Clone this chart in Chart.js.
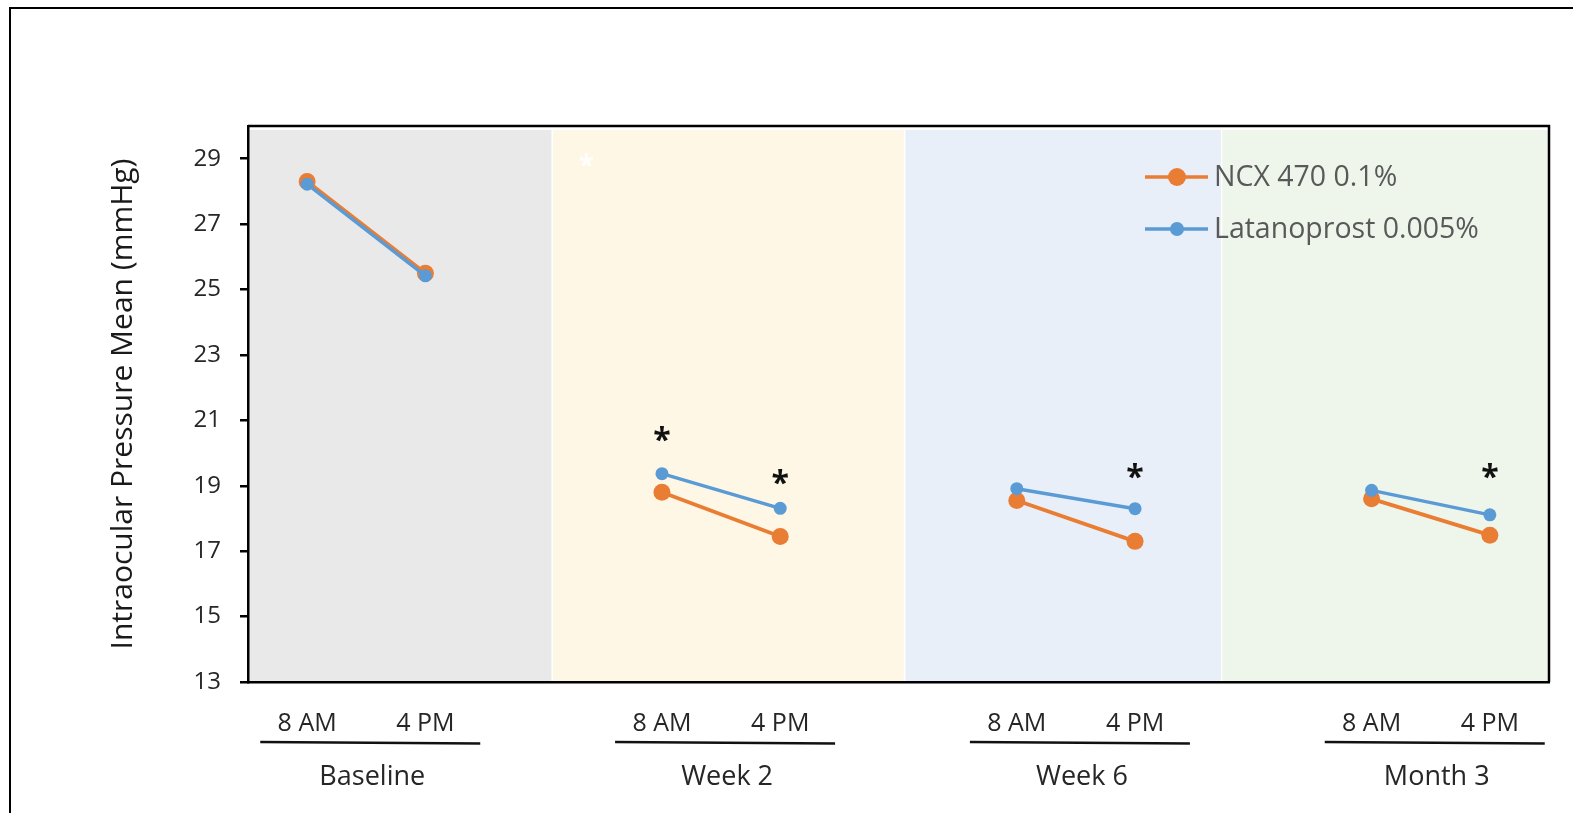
<!DOCTYPE html>
<html>
<head>
<meta charset="utf-8">
<title>Intraocular Pressure Mean</title>
<script src="https://cdn.jsdelivr.net/npm/chart.js@4.4.0/dist/chart.umd.min.js"></script>
<style>
  html, body { margin: 0; padding: 0; background: #fff; overflow: hidden; }
  #frame {
    position: absolute; left: 9px; top: 7px; width: 1620px; height: 900px;
    border: 2.5px solid #000; box-sizing: border-box;
  }
  #iopChart { position: absolute; left: 0; top: 0; }
</style>
</head>
<body>
<div id="frame"></div>
<canvas id="iopChart" width="1573" height="813"></canvas>
<script>
// DADOS DO GRÁFICO
const timeLabels = ["8 AM", "4 PM", "", "8 AM", "4 PM", "", "8 AM", "4 PM", "", "8 AM", "4 PM"];
const groupNames = ["Baseline", "Week 2", "Week 6", "Month 3"];
const groupFirstSlot = [0, 3, 6, 9];

const ncxValues = [28.3, 25.5, null, 18.8, 17.45, null, 18.55, 17.3, null, 18.6, 17.49];
const latValues = [28.22, 25.42, null, 19.37, 18.31, null, 18.91, 18.3, null, 18.86, 18.11];

const yTicks = [13, 15, 17, 19, 21, 23, 25, 27, 29];

// asteriscos de significância (posição no eixo de categorias, valor)
const starSlot = [3, 4, 7, 10];
const starValue = [20.61, 19.31, 19.47, 19.47];
const faintStarSlot = [2.36];
const faintStarValue = [29.0];

// faixas de fundo por período (limites em unidades de categoria)
const bandEdges = [-0.5, 2.07, 5.05, 7.73, 10.5];
const bandColors = ["#E9E9E9", "#FFF7E6", "#E9EFF8", "#EEF6EB"];

const ORANGE = "#E97D33";
const BLUE = "#5B9BD5";
const FONT = "'Open Sans', 'Noto Sans', sans-serif";

// ------------------------------
// PLUGIN: FAIXAS DE FUNDO
// ------------------------------
const bandsPlugin = {
  id: "bands",
  beforeDraw(chart) {
    const { ctx, chartArea, scales } = chart;
    ctx.save();
    for (let i = 0; i < bandColors.length; i++) {
      const x0 = scales.x.getPixelForValue(bandEdges[i]);
      const x1 = scales.x.getPixelForValue(bandEdges[i + 1]);
      ctx.fillStyle = bandColors[i];
      ctx.fillRect(x0 + 1, chartArea.top + 4, x1 - x0 - 1.5, chartArea.bottom - chartArea.top - 4);
    }
    ctx.restore();
  },
};

// ------------------------------
// PLUGIN: MOLDURA, ASTERISCOS, LEGENDA E GRUPOS
// ------------------------------
const extrasPlugin = {
  id: "extras",
  afterDatasetsDraw(chart) {
    const { ctx, scales } = chart;
    ctx.save();
    ctx.font = `bold 32px ${FONT}`;
    ctx.textAlign = "center";
    ctx.textBaseline = "alphabetic";
    ctx.fillStyle = "#111";
    starSlot.forEach((s, i) => {
      ctx.fillText("*", scales.x.getPixelForValue(s), scales.y.getPixelForValue(starValue[i]) + 18);
    });
    ctx.fillStyle = "rgba(255,255,255,0.85)";
    ctx.font = `bold 28px ${FONT}`;
    faintStarSlot.forEach((s, i) => {
      ctx.fillText("*", scales.x.getPixelForValue(s), scales.y.getPixelForValue(faintStarValue[i]) + 16);
    });
    ctx.restore();
  },
  afterDraw(chart) {
    const { ctx, chartArea, scales } = chart;
    ctx.save();

    // moldura superior e direita
    ctx.strokeStyle = "#000";
    ctx.lineWidth = 2.5;
    ctx.beginPath();
    ctx.moveTo(chartArea.left, chartArea.top);
    ctx.lineTo(chartArea.right, chartArea.top);
    ctx.lineTo(chartArea.right, chartArea.bottom);
    ctx.stroke();

    // legenda
    const legendX = 1145;
    const legendY = [177, 229];
    const radii = [9, 7];
    chart.data.datasets.forEach((ds, i) => {
      const y = legendY[i];
      ctx.strokeStyle = ds.borderColor;
      ctx.lineWidth = 3.5;
      ctx.beginPath();
      ctx.moveTo(legendX, y);
      ctx.lineTo(legendX + 63, y);
      ctx.stroke();
      ctx.fillStyle = ds.borderColor;
      ctx.beginPath();
      ctx.arc(legendX + 32, y, radii[i], 0, Math.PI * 2);
      ctx.fill();
      ctx.fillStyle = "#595959";
      ctx.font = `28.5px ${FONT}`;
      ctx.textAlign = "left";
      ctx.textBaseline = "middle";
      ctx.fillText(ds.label, legendX + 69, y + 1);
    });

    // sublinhados e nomes dos períodos
    ctx.strokeStyle = "#111";
    ctx.lineWidth = 2.5;
    ctx.fillStyle = "#262626";
    ctx.font = `27px ${FONT}`;
    ctx.textAlign = "center";
    ctx.textBaseline = "middle";
    groupNames.forEach((name, i) => {
      const a = scales.x.getPixelForValue(groupFirstSlot[i]);
      const b = scales.x.getPixelForValue(groupFirstSlot[i] + 1);
      const mid = (a + b) / 2 + 4;
      ctx.beginPath();
      ctx.moveTo(mid - 110, 742);
      ctx.lineTo(mid + 110, 743.5);
      ctx.stroke();
      ctx.fillText(name, mid + 2, 777);
    });

    ctx.restore();
  },
};

// ------------------------------
// MONTA O GRÁFICO
// ------------------------------
function montarGrafico() {
  const ctx = document.getElementById("iopChart").getContext("2d");
  new Chart(ctx, {
    type: "line",
    data: {
      labels: timeLabels,
      datasets: [
        {
          label: "NCX 470 0.1%",
          data: ncxValues,
          borderColor: ORANGE,
          backgroundColor: ORANGE,
          borderWidth: 3.8,
          pointRadius: 8.5,
          pointBorderWidth: 0,
          spanGaps: false,
          order: 1,
        },
        {
          label: "Latanoprost 0.005%",
          data: latValues,
          borderColor: BLUE,
          backgroundColor: BLUE,
          borderWidth: 3.5,
          pointRadius: 6.5,
          pointBorderWidth: 0,
          spanGaps: false,
          order: 0,
        },
      ],
    },
    options: {
      responsive: false,
      animation: false,
      layout: { padding: { top: 126, right: 24, bottom: 0, left: 105 } },
      plugins: { legend: { display: false }, tooltip: { enabled: false } },
      scales: {
        x: {
          type: "category",
          offset: true,
          grid: { display: false },
          border: { display: true, color: "#000", width: 2.5 },
          ticks: {
            autoSkip: false,
            maxRotation: 0,
            padding: 19,
            color: "#262626",
            font: { family: FONT, size: 25 },
          },
          afterFit(scale) {
            scale.height = 131;
          },
        },
        y: {
          min: 13,
          max: 30,
          grid: {
            display: true,
            drawOnChartArea: false,
            drawTicks: true,
            tickLength: 8,
            color: "#000",
            lineWidth: 2.5,
          },
          border: { display: true, color: "#000", width: 2.5 },
          ticks: {
            padding: 19,
            color: "#262626",
            font: { family: FONT, size: 24 },
          },
          title: {
            display: true,
            text: "Intraocular Pressure Mean (mmHg)",
            color: "#1a1a1a",
            font: { family: FONT, size: 30 },
            padding: 0,
          },
          afterBuildTicks(scale) {
            scale.ticks = yTicks.map((v) => ({ value: v }));
          },
          afterFit(scale) {
            scale.width = 143;
          },
        },
      },
    },
    plugins: [bandsPlugin, extrasPlugin],
  });
}

document.addEventListener("DOMContentLoaded", () => {
  const fontes = [`24px ${FONT}`, `bold 30px ${FONT}`];
  Promise.all(fontes.map((f) => document.fonts.load(f)))
    .catch(() => {})
    .then(montarGrafico);
});
</script>
</body>
</html>
